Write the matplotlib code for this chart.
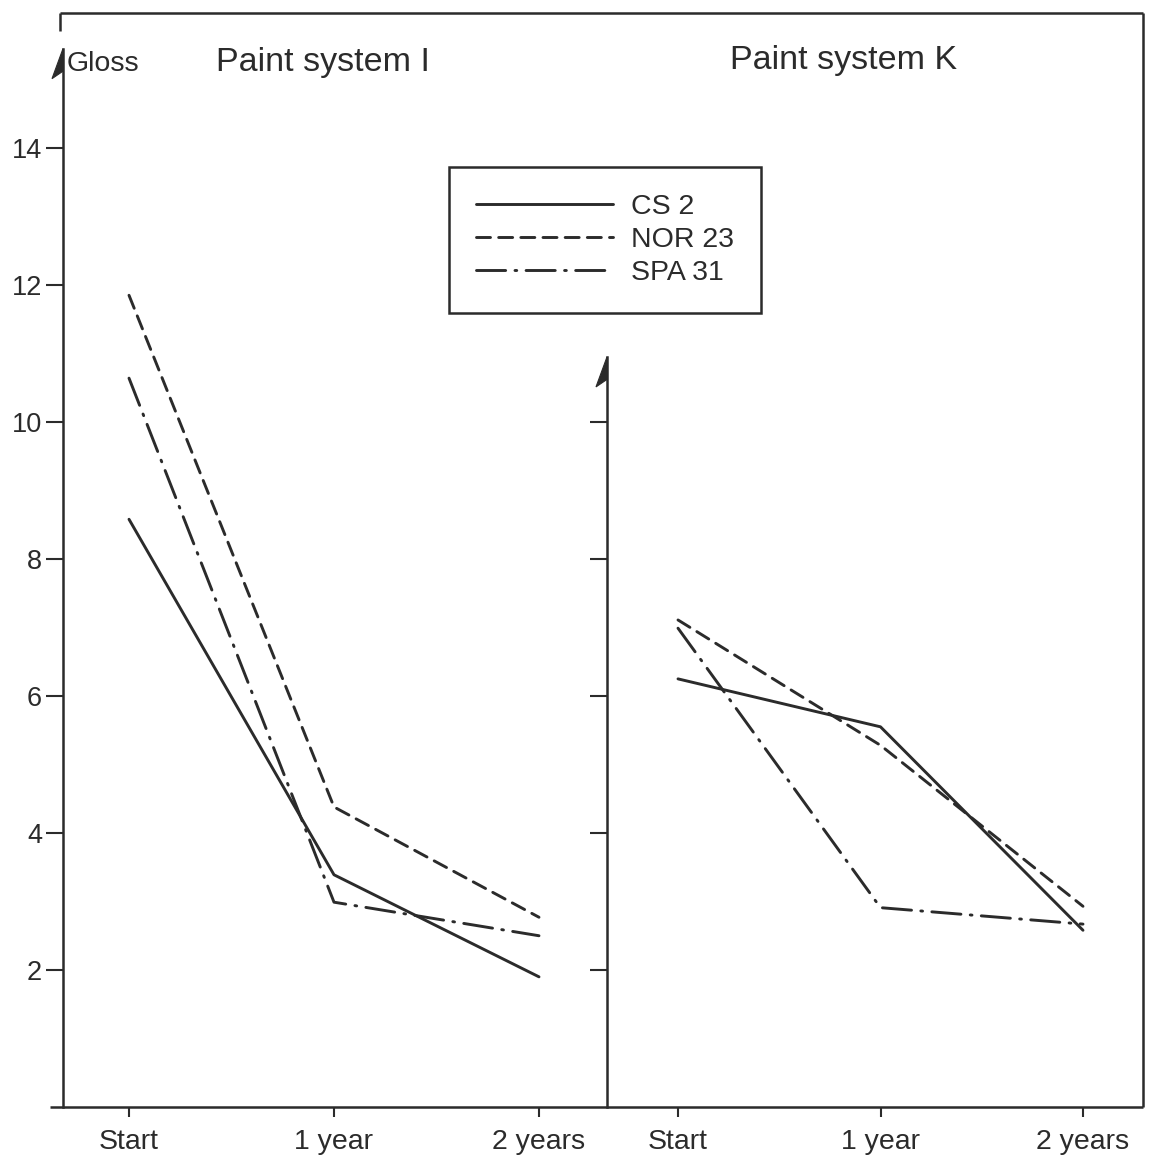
import matplotlib
matplotlib.use('Agg')
import matplotlib.pyplot as plt
from matplotlib.lines import Line2D
from matplotlib.patches import Polygon

plt.rcParams['font.family'] = ['Liberation Sans', 'DejaVu Sans']

# data
times = ['Start', '1 year', '2 years']
x = [0, 1, 2]
series = ['CS 2', 'NOR 23', 'SPA 31']
gloss_i = {
    'CS 2': [8.58, 3.39, 1.90],
    'NOR 23': [11.85, 4.38, 2.77],
    'SPA 31': [10.64, 2.99, 2.50],
}
gloss_k = {
    'CS 2': [6.25, 5.55, 2.58],
    'NOR 23': [7.11, 5.28, 2.93],
    'SPA 31': [6.99, 2.91, 2.67],
}
yticks_i = [2, 4, 6, 8, 10, 12, 14]
yticks_k = [2, 4, 6, 8, 10]

ink = '#2b2b2b'
styles = {
    'CS 2': dict(linestyle='-'),
    'NOR 23': dict(linestyle=(0, (4.8, 2.8))),
    'SPA 31': dict(linestyle=(0, (10, 3.2, 0.6, 3.2))),
}

W, H = 1149, 1156
fig = plt.figure(figsize=(W / 100, H / 100), dpi=100)


def fx(px):
    return px / W


def fy(py):
    return 1 - py / H


bottom_px, top_px = 1107, 13
ymax = (bottom_px - top_px) / 68.5

axL = fig.add_axes([fx(63), fy(bottom_px), fx(607 - 63), (bottom_px - top_px) / H])
axR = fig.add_axes([fx(607), fy(bottom_px), fx(1143 - 607), (bottom_px - top_px) / H])
axL.set_xlim((63 - 129) / 205, (607 - 129) / 205)
axR.set_xlim((607 - 678) / 202.5, (1143 - 678) / 202.5)

for ax, data, yt, top in [(axL, gloss_i, yticks_i, 15.45), (axR, gloss_k, yticks_k, 10.95)]:
    ax.set_ylim(0, ymax)
    ax.patch.set_alpha(0)
    for name in series:
        ax.plot(x, data[name], color=ink, lw=2.1, label=name,
                solid_capstyle='round', dash_capstyle='round', **styles[name])
    ax.set_xticks(x)
    ax.set_xticklabels(times, fontsize=20.5, color=ink)
    ax.set_yticks(yt)
    ax.tick_params(axis='x', direction='out', length=7, width=1.5, color=ink, pad=9)
    ax.tick_params(axis='y', direction='out', length=12, width=1.5, color=ink, pad=3)
    for s in ['top', 'right']:
        ax.spines[s].set_visible(False)
    ax.spines['bottom'].set_visible(False)
    ax.spines['left'].set_bounds(0, top)
    ax.spines['left'].set_linewidth(1.8)
    ax.spines['left'].set_color(ink)
    # half arrow head at top of the value axis
    x0 = ax.get_xlim()[0]
    xr = ax.get_xlim()[1] - x0
    wpx = ax.get_position().width * W
    dx = 11 / wpx * xr
    dy = 30 / 68.5
    ax.add_patch(Polygon([(x0, top), (x0 - dx, top - dy), (x0, top - dy * 0.75)],
                         closed=True, color=ink, clip_on=False, lw=0.8))

axL.set_yticklabels([str(v) for v in yticks_i], fontsize=19.5, color=ink)
axR.set_yticklabels([])

# frame and base line
frame = dict(color=ink, lw=1.8, solid_capstyle='butt')
fig.add_artist(Line2D([fx(60), fx(1143)], [fy(13), fy(13)], **frame))
fig.add_artist(Line2D([fx(60), fx(60)], [fy(13), fy(31)], **frame))
fig.add_artist(Line2D([fx(1143), fx(1143)], [fy(13), fy(bottom_px)], **frame))
fig.add_artist(Line2D([fx(50), fx(1143)], [fy(bottom_px), fy(bottom_px)], **frame))

fig.text(fx(67), fy(64), 'Gloss', fontsize=20.5, color=ink, va='center', ha='left')
fig.text(fx(323), fy(62), 'Paint system I', fontsize=24.5, color=ink, va='center', ha='center')
fig.text(fx(844), fy(60), 'Paint system K', fontsize=24.5, color=ink, va='center', ha='center')

handles, labels = axR.get_legend_handles_labels()
leg = fig.legend(handles, labels, loc='upper left',
                 bbox_to_anchor=(fx(449), fy(167)), fontsize=20.5,
                 frameon=True, fancybox=False, edgecolor=ink, framealpha=1,
                 handlelength=4.8, handletextpad=0.65, labelspacing=0.25,
                 borderpad=0.95, borderaxespad=0)
leg.get_frame().set_linewidth(1.8)
for t in leg.get_texts():
    t.set_color(ink)

fig.savefig('out.png', dpi=100)
